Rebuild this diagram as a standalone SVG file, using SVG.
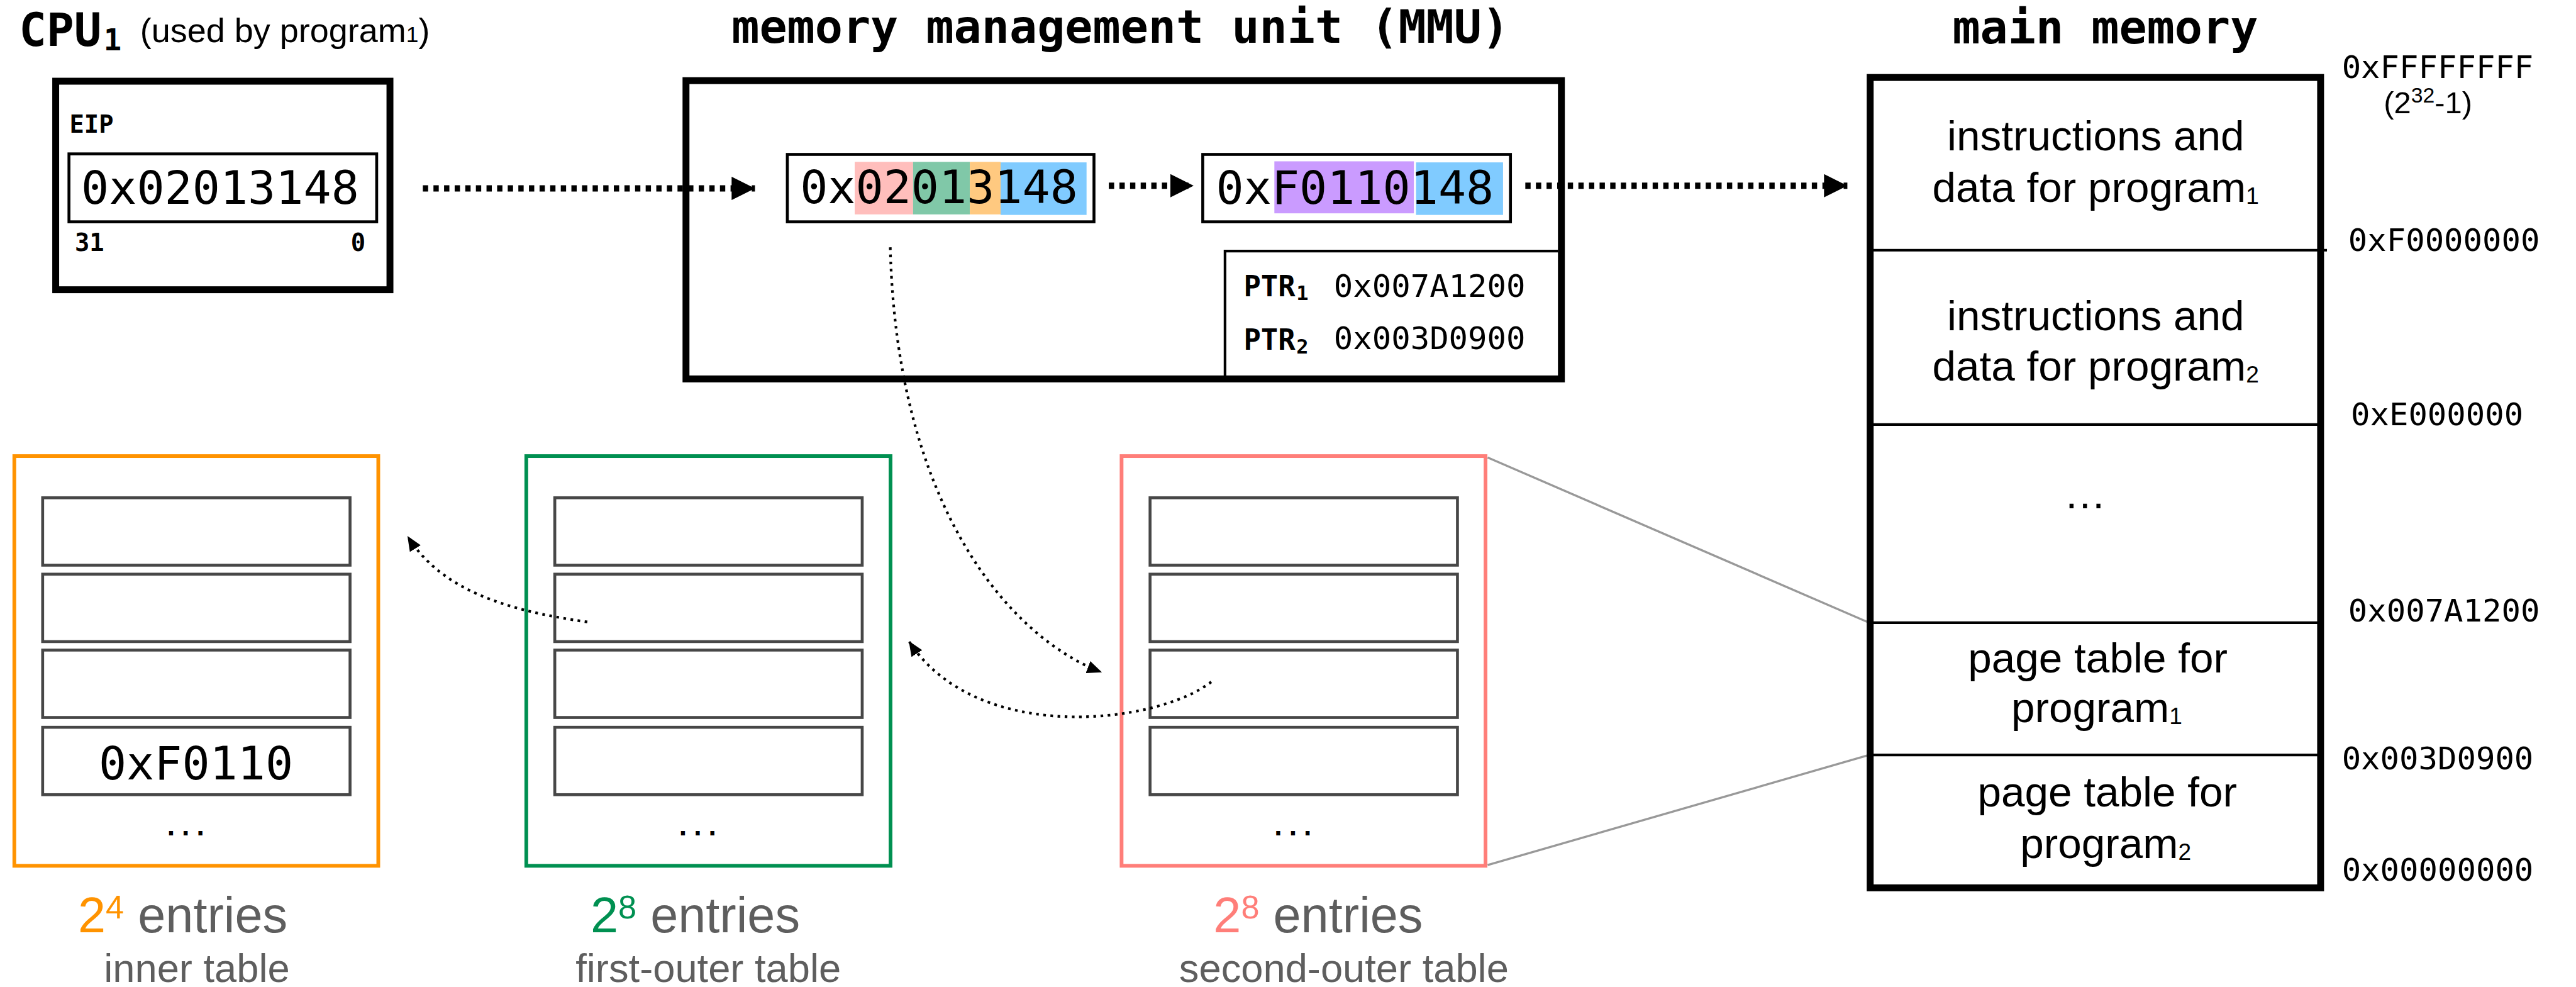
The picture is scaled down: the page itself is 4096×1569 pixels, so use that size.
<svg xmlns="http://www.w3.org/2000/svg" width="4096" height="1569" viewBox="0 0 4096 1569">
  <defs>
    <style>
      .mono { font-family: "DejaVu Sans Mono", "Liberation Mono", monospace; }
      .bold { font-weight: bold; }
      .sans { font-family: "Liberation Sans", Arial, Helvetica, sans-serif; }
      .frame { fill: #fff; stroke: #000; stroke-width: 13; }
      .reg { fill: #fff; stroke: #000; stroke-width: 5.5; }
      .row { fill: none; stroke: #474747; stroke-width: 5.5; }
      .rule { fill: none; stroke: #000; stroke-width: 5; }
      .flow { fill: none; stroke: #000; stroke-width: 12; stroke-dasharray: 10 10; }
      .walk { fill: none; stroke: #000; stroke-width: 5; stroke-dasharray: 5 8.5; }
      .span { fill: none; stroke: #999; stroke-width: 4; }
      .lbl { fill: #5e5e5e; }
      .tbl { fill: #fff; stroke-width: 7; }
    </style>
    <marker id="bigHead" markerUnits="userSpaceOnUse" markerWidth="44" markerHeight="44" refX="44" refY="22" orient="auto">
      <path d="M0,0 L44,22 L0,44 z" fill="#000"/>
    </marker>
    <marker id="smallHead" markerUnits="userSpaceOnUse" markerWidth="28" markerHeight="24" refX="28" refY="12" orient="auto">
      <path d="M0,0 L28,12 L0,24 z" fill="#000"/>
    </marker>
  </defs>

  <rect x="0" y="0" width="4096" height="1569" fill="#fff"/>

  <g transform="scale(0.8436)">

    <!-- links from the second-outer table to its slot in main memory -->
    <g id="table-span">
      <line class="span" x1="2804" y1="862" x2="3522" y2="1173"/>
      <line class="span" x1="2804" y1="1630" x2="3522" y2="1423"/>
    </g>

    <!-- CPU with its EIP register -->
    <g id="cpu">
      <text class="mono bold" x="36" y="87" font-size="86">CPU<tspan font-size="56" dx="4" dy="8">1</tspan></text>
      <text class="sans" x="264" y="79" font-size="64">(used by program<tspan font-size="42">1</tspan>)</text>
      <rect class="frame" x="105" y="153" width="630" height="393"/>
      <text class="mono bold" x="131" y="250" font-size="46">EIP</text>
      <rect class="reg" x="130" y="290" width="580" height="128"/>
      <text class="mono" x="153" y="384" font-size="87">0x02013148</text>
      <text class="mono bold" x="141" y="473" font-size="46">31</text>
      <text class="mono bold" x="689" y="473" font-size="46" text-anchor="end">0</text>
    </g>

    <!-- memory management unit -->
    <g id="mmu">
      <text class="mono bold" x="2112" y="81" font-size="87" text-anchor="middle">memory management unit (MMU)</text>
      <rect class="frame" x="1293" y="152" width="1650" height="562"/>

      <g id="virtual-address">
        <rect class="reg" x="1484" y="291" width="578" height="127"/>
        <rect x="1611" y="305" width="110" height="99" fill="#FFBEBC"/>
        <rect x="1721" y="305" width="107" height="99" fill="#80C8A8"/>
        <rect x="1828" y="305" width="58" height="99" fill="#FFC980"/>
        <rect x="1886" y="306" width="162" height="99" fill="#80CBFF"/>
        <text class="mono" x="1508" y="383" font-size="87">0x02013148</text>
      </g>

      <g id="physical-address">
        <rect class="reg" x="2267" y="291" width="580" height="127"/>
        <rect x="2402" y="304" width="263" height="98" fill="#CA9BFF"/>
        <rect x="2669" y="306" width="164" height="99" fill="#80CBFF"/>
        <text class="mono" x="2292" y="384" font-size="87">0xF0110148</text>
      </g>

      <g id="ptr-registers">
        <path class="rule" d="M2309,714 V473 H2937"/>
        <text class="mono bold" x="2344" y="558" font-size="54">PTR<tspan font-size="38" dx="2" dy="7">1</tspan></text>
        <text class="mono" x="2514" y="559" font-size="60">0x007A1200</text>
        <text class="mono bold" x="2344" y="659" font-size="54">PTR<tspan font-size="38" dx="2" dy="7">2</tspan></text>
        <text class="mono" x="2514" y="658" font-size="60">0x003D0900</text>
      </g>
    </g>

    <!-- main memory layout -->
    <g id="main-memory">
      <text class="mono bold" x="3968" y="82" font-size="87" text-anchor="middle">main memory</text>
      <rect class="frame" x="3525" y="146" width="849" height="1527"/>
      <line class="rule" x1="3525" y1="471.5" x2="4386" y2="471.5"/>
      <line class="rule" x1="3525" y1="800" x2="4374" y2="800"/>
      <line class="rule" x1="3525" y1="1173.5" x2="4374" y2="1173.5"/>
      <line class="rule" x1="3525" y1="1422.5" x2="4374" y2="1422.5"/>

      <g class="sans" font-size="80" text-anchor="middle">
        <text x="3950" y="283">instructions and</text>
        <text x="3950" y="380">data for program<tspan font-size="44" dy="4">1</tspan></text>
        <text x="3950" y="622">instructions and</text>
        <text x="3950" y="717">data for program<tspan font-size="44" dy="4">2</tspan></text>
        <text x="3930" y="958">…</text>
        <text x="3954" y="1267">page table for</text>
        <text x="3952" y="1361">program<tspan font-size="44" dy="4">1</tspan></text>
        <text x="3972" y="1520">page table for</text>
        <text x="3969" y="1617">program<tspan font-size="44" dy="4">2</tspan></text>
      </g>

      <g class="mono" font-size="60">
        <text x="4414" y="147">0xFFFFFFFF</text>
        <text x="4426" y="473">0xF0000000</text>
        <text x="4431" y="801">0xE000000</text>
        <text x="4426" y="1171">0x007A1200</text>
        <text x="4414" y="1450">0x003D0900</text>
        <text x="4414" y="1659">0x00000000</text>
      </g>
      <text class="sans" x="4493" y="213" font-size="58">(2<tspan font-size="40" dy="-20">32</tspan><tspan dy="20">-1)</tspan></text>
    </g>

    <!-- inner page table -->
    <g id="inner-table">
      <rect class="tbl" x="27" y="859.5" width="686" height="772" stroke="#FF9300"/>
      <rect class="row" x="80.4" y="938" width="579.4" height="127"/>
      <rect class="row" x="80.4" y="1082" width="579.4" height="127"/>
      <rect class="row" x="80.4" y="1225" width="579.4" height="127"/>
      <rect class="row" x="80.4" y="1370.5" width="579.4" height="127"/>
      <text class="mono" x="186" y="1469" font-size="87">0xF0110</text>
      <text class="mono bold" x="350" y="1574" font-size="46" text-anchor="middle">...</text>
      <text class="sans lbl" x="147" y="1757" font-size="94"><tspan fill="#FF9300">2</tspan><tspan fill="#FF9300" font-size="62" dy="-26">4</tspan><tspan dy="26"> entries</tspan></text>
      <text class="sans lbl" x="371" y="1851" font-size="75" text-anchor="middle">inner table</text>
    </g>

    <!-- first-outer page table -->
    <g id="first-outer-table">
      <rect class="tbl" x="992" y="859.5" width="686.5" height="772" stroke="#009051"/>
      <rect class="row" x="1045.7" y="938" width="579.4" height="127"/>
      <rect class="row" x="1045.7" y="1082" width="579.4" height="127"/>
      <rect class="row" x="1045.7" y="1225" width="579.4" height="127"/>
      <rect class="row" x="1045.7" y="1370.5" width="579.4" height="127"/>
      <text class="mono bold" x="1315" y="1574" font-size="46" text-anchor="middle">...</text>
      <text class="sans lbl" x="1113" y="1757" font-size="94"><tspan fill="#009051">2</tspan><tspan fill="#009051" font-size="62" dy="-26">8</tspan><tspan dy="26"> entries</tspan></text>
      <text class="sans lbl" x="1335" y="1851" font-size="75" text-anchor="middle">first-outer table</text>
    </g>

    <!-- second-outer page table -->
    <g id="second-outer-table">
      <rect class="tbl" x="2114" y="859.5" width="686" height="772" stroke="#FF7E79"/>
      <rect class="row" x="2167.7" y="938" width="579.4" height="127"/>
      <rect class="row" x="2167.7" y="1082" width="579.4" height="127"/>
      <rect class="row" x="2167.7" y="1225" width="579.4" height="127"/>
      <rect class="row" x="2167.7" y="1370.5" width="579.4" height="127"/>
      <text class="mono bold" x="2437" y="1574" font-size="46" text-anchor="middle">...</text>
      <text class="sans lbl" x="2287" y="1757" font-size="94"><tspan fill="#FF7E79">2</tspan><tspan fill="#FF7E79" font-size="62" dy="-26">8</tspan><tspan dy="26"> entries</tspan></text>
      <text class="sans lbl" x="2533" y="1851" font-size="75" text-anchor="middle">second-outer table</text>
    </g>

    <!-- address flow and table walk -->
    <g id="connectors">
      <line class="flow" x1="797" y1="355" x2="1423" y2="355" marker-end="url(#bigHead)"/>
      <line class="flow" x1="2090" y1="350" x2="2250" y2="350" marker-end="url(#bigHead)"/>
      <line class="flow" x1="2875" y1="350" x2="3482" y2="350" marker-end="url(#bigHead)"/>
      <path class="walk" d="M1678,466 C1690,950 1900,1200 2077,1267" marker-end="url(#smallHead)"/>
      <path class="walk" d="M2283,1285 C2180,1365 1840,1405 1713,1208" marker-end="url(#smallHead)"/>
      <path class="walk" d="M1107,1172 C950,1150 830,1110 768,1010" marker-end="url(#smallHead)"/>
    </g>
  </g>
</svg>
